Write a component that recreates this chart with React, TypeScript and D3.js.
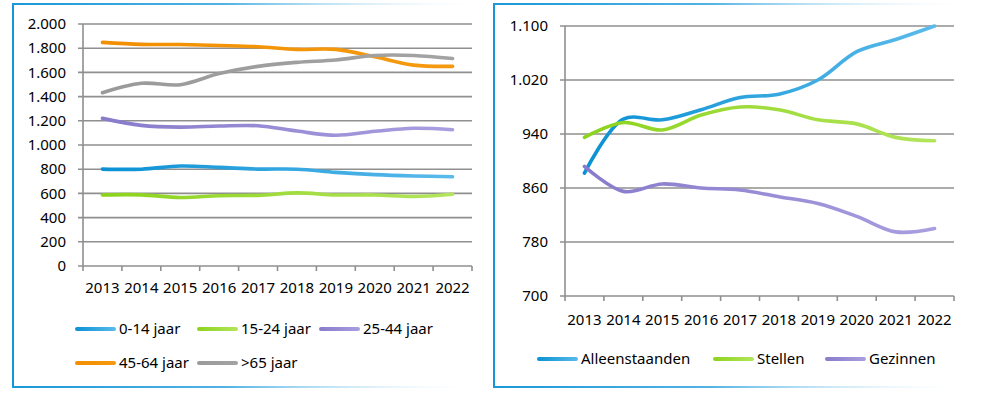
import React from 'react';
import * as d3 from 'd3';

// Years shared by both charts
const years = ['2013', '2014', '2015', '2016', '2017', '2018', '2019', '2020', '2021', '2022'];

// Left chart: inwoners per leeftijdsgroep
const ageGroups = ['0-14 jaar', '15-24 jaar', '25-44 jaar', '45-64 jaar', '>65 jaar'];
const age0014 = [801, 800, 826, 815, 801, 800, 774, 755, 744, 738];
const age1524 = [587, 588, 566, 581, 584, 604, 587, 587, 574, 593];
const age2544 = [1220, 1162, 1148, 1157, 1159, 1115, 1080, 1113, 1138, 1126];
const age4564 = [1848, 1832, 1830, 1822, 1812, 1790, 1790, 1730, 1660, 1650];
const age65 = [1432, 1510, 1498, 1590, 1650, 1683, 1703, 1740, 1740, 1715];
const leftTicks = [0, 200, 400, 600, 800, 1000, 1200, 1400, 1600, 1800, 2000];

// Right chart: huishoudens per type
const householdTypes = ['Alleenstaanden', 'Stellen', 'Gezinnen'];
const alleenstaanden = [882, 962, 961, 976, 994, 999, 1020, 1062, 1080, 1100];
const stellen = [935, 957, 946, 968, 980, 976, 961, 955, 935, 930];
const gezinnen = [892, 855, 866, 860, 857, 847, 837, 818, 795, 800];
const rightTicks = [700, 780, 860, 940, 1020, 1100];

const FONT = '"Noto Sans", sans-serif';
const fmt = (v: number) => d3.format(',')(v).replace(/,/g, '.');

type Grad = { id: string; from: string; to: string };
const grads: Grad[] = [
  { id: 'gBlue', from: '#0a91d4', to: '#5abaeb' },
  { id: 'gGreen', from: '#8cd31c', to: '#b3e55c' },
  { id: 'gPurple', from: '#887bcb', to: '#a99ee0' },
  { id: 'gOrange', from: '#f28f00', to: '#f59a10' },
  { id: 'gGrey', from: '#9a9a9a', to: '#a3a3a3' },
];

const leftSeries = [
  { name: ageGroups[0], values: age0014, grad: 'gBlue' },
  { name: ageGroups[1], values: age1524, grad: 'gGreen' },
  { name: ageGroups[2], values: age2544, grad: 'gPurple' },
  { name: ageGroups[3], values: age4564, grad: 'gOrange' },
  { name: ageGroups[4], values: age65, grad: 'gGrey' },
];
const rightSeries = [
  { name: householdTypes[0], values: alleenstaanden, grad: 'gBlue' },
  { name: householdTypes[1], values: stellen, grad: 'gGreen' },
  { name: householdTypes[2], values: gezinnen, grad: 'gPurple' },
];

interface PanelProps {
  x0: number; x1: number; yTop: number; yBot: number;
  domain: [number, number]; ticks: number[];
  series: { name: string; values: number[]; grad: string }[];
  labelX: number; xLabelY: number;
  legend: { x: number; y: number }[];
}

const Panel: React.FC<PanelProps> = ({ x0, x1, yTop, yBot, domain, ticks, series, labelX, xLabelY, legend }) => {
  const x = d3.scaleBand<string>().domain(years).range([x0, x1]);
  const y = d3.scaleLinear().domain(domain).range([yBot, yTop]);
  const line = d3.line<number>()
    .x((_, i) => (x(years[i]) as number) + x.bandwidth() / 2)
    .y(d => y(d))
    .curve(d3.curveCatmullRom.alpha(0.5));
  const edges = years.map(yr => x(yr) as number).concat([x1]);

  return (
    <g>
      {ticks.map(t => (
        <g key={t}>
          <line x1={x0 - 5} x2={x1} y1={y(t)} y2={y(t)} stroke="#8f8f8f" strokeWidth={1.6} />
          <text x={labelX} y={y(t)} dy="0.35em" textAnchor="end" fontSize={15} fontFamily={FONT} fill="#000">{fmt(t)}</text>
        </g>
      ))}
      <line x1={x0} x2={x0} y1={yTop} y2={yBot} stroke="#8f8f8f" strokeWidth={1.6} />
      {edges.map((e, i) => (
        <line key={i} x1={e} x2={e} y1={yBot} y2={yBot + 5} stroke="#8f8f8f" strokeWidth={1.6} />
      ))}
      {years.map(yr => (
        <text key={yr} x={(x(yr) as number) + x.bandwidth() / 2} y={xLabelY} dy="0.35em" textAnchor="middle" fontSize={15} fontFamily={FONT} fill="#000">{yr}</text>
      ))}
      {series.map(s => (
        <path key={s.name} d={line(s.values) || ''} fill="none" stroke={`url(#${s.grad})`} strokeWidth={3.6} strokeLinecap="round" strokeLinejoin="round" />
      ))}
      {series.map((s, i) => (
        <g key={s.name} transform={`translate(${legend[i].x},${legend[i].y})`}>
          <rect x={0} y={-2} width={41} height={4} rx={2} fill={`url(#${s.grad})`} />
          <text x={44} y={0} dy="0.35em" fontSize={15} fontFamily={FONT} fill="#000">{s.name}</text>
        </g>
      ))}
    </g>
  );
};

export default function App() {
  const width = 987;
  const height = 395;
  return (
    <div style={{ position: 'absolute', left: 0, top: 0 }}>
      <svg width={width} height={height} style={{ display: 'block', background: '#fff' }}>
        <defs>
          {grads.map(g => (
            <linearGradient key={g.id} id={g.id} x1="0" x2="1" y1="0" y2="0">
              <stop offset="0" stopColor={g.from} />
              <stop offset="1" stopColor={g.to} />
            </linearGradient>
          ))}
          <linearGradient id="frameFade" x1="0" x2="1" y1="0" y2="0">
            <stop offset="0" stopColor="#1a98d8" />
            <stop offset="0.45" stopColor="#52b3e4" />
            <stop offset="1" stopColor="#ffffff" stopOpacity={0} />
          </linearGradient>
        </defs>

        {/* left frame */}
        <rect x={12} y={3} width={2} height={385} fill="#1596d8" />
        <rect x={12} y={3} width={476} height={2} fill="url(#frameFade)" />
        <rect x={12} y={386} width={476} height={2} fill="url(#frameFade)" />
        {/* right frame */}
        <rect x={493} y={3} width={2} height={385} fill="#1596d8" />
        <rect x={493} y={3} width={485} height={2} fill="url(#frameFade)" />
        <rect x={493} y={386} width={485} height={2} fill="url(#frameFade)" />

        <Panel
          x0={83} x1={472} yTop={24} yBot={266}
          domain={[0, 2000]} ticks={leftTicks} series={leftSeries}
          labelX={66} xLabelY={288}
          legend={[{ x: 75, y: 329 }, { x: 197, y: 329 }, { x: 319, y: 329 }, { x: 75, y: 363 }, { x: 197, y: 363 }]}
        />
        <Panel
          x0={565} x1={954} yTop={26} yBot={296}
          domain={[700, 1100]} ticks={rightTicks} series={rightSeries}
          labelX={548} xLabelY={320}
          legend={[{ x: 537, y: 359 }, { x: 713, y: 359 }, { x: 825, y: 359 }]}
        />
      </svg>
    </div>
  );
}
